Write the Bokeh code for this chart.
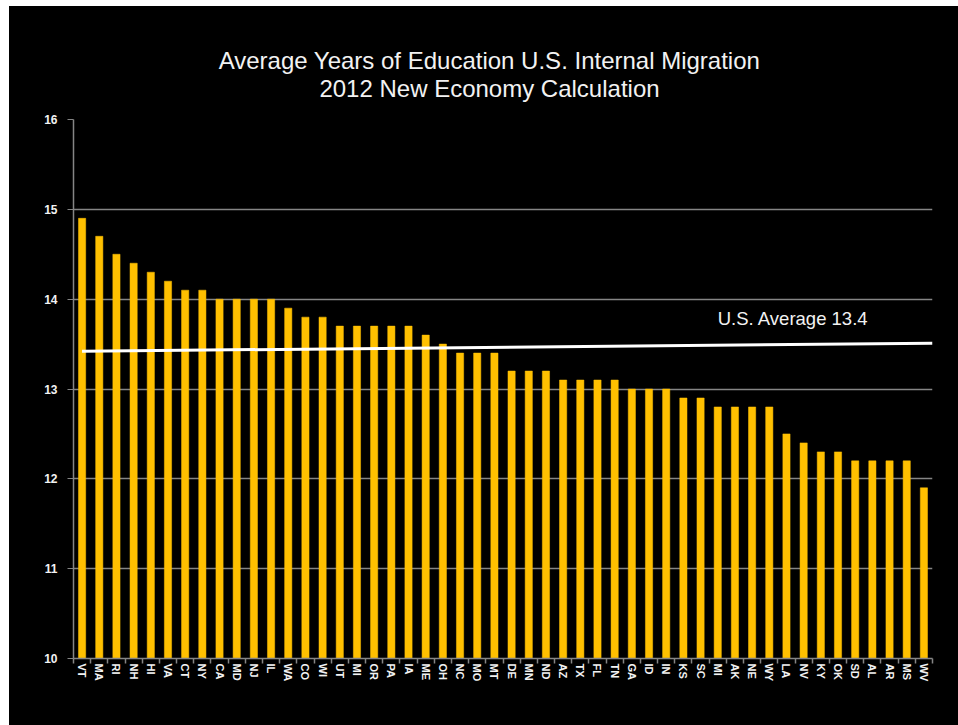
from bokeh.plotting import figure
from bokeh.models import (Range1d, LinearAxis, FixedTicker, Label, Spacer,
                          CustomJSTickFormatter)
from bokeh.core.properties import value
from bokeh.layouts import row, column
from bokeh.embed import file_html
from bokeh.resources import INLINE

# ---- data ----
states = ["VT", "MA", "RI", "NH", "HI", "VA", "CT", "NY", "CA", "MD",
          "NJ", "IL", "WA", "CO", "WI", "UT", "MI", "OR", "PA", "IA",
          "ME", "OH", "NC", "MO", "MT", "DE", "MN", "ND", "AZ", "TX",
          "FL", "TN", "GA", "ID", "IN", "KS", "SC", "MI", "AK", "NE",
          "WY", "LA", "NV", "KY", "OK", "SD", "AL", "AR", "MS", "WV"]
values = [14.9, 14.7, 14.5, 14.4, 14.3, 14.2, 14.1, 14.1, 14.0, 14.0,
          14.0, 14.0, 13.9, 13.8, 13.8, 13.7, 13.7, 13.7, 13.7, 13.7,
          13.6, 13.5, 13.4, 13.4, 13.4, 13.2, 13.2, 13.2, 13.1, 13.1,
          13.1, 13.1, 13.0, 13.0, 13.0, 12.9, 12.9, 12.8, 12.8, 12.8,
          12.8, 12.5, 12.4, 12.3, 12.3, 12.2, 12.2, 12.2, 12.2, 11.9]
y_ticks = [10, 11, 12, 13, 14, 15, 16]
avg_value = 13.4
avg_line_y = [13.42, 13.51]   # hand-drawn average line, slightly tilted
avg_label = "U.S. Average 13.4"
title_1 = "Average Years of Education U.S. Internal Migration"
title_2 = "2012 New Economy Calculation"

n = len(states)
xpos = [i + 0.5 for i in range(n)]     # category centres

BAR = "#FFC000"
GRID = "#858585"
TXT = "#f2f2f2"
FONT = "Liberation Sans"

W = 949
HT = 100                      # title strip height
H = 619                       # chart height
ML, MR, MT, MB = 64, 26, 13, 67

# ---- title strip (x in pixels from the strip's left edge) ----
t = figure(width=W, height=HT, x_range=Range1d(ML, W - MR),
           y_range=Range1d(0, HT),
           output_backend="svg", toolbar_location=None,
           x_axis_location=None, y_axis_location=None,
           background_fill_color="black", border_fill_color="black",
           outline_line_color=None, min_border_left=ML, min_border_right=MR,
           min_border_top=0, min_border_bottom=0)
t.xgrid.visible = False
t.ygrid.visible = False
t.text(x=[480, 480], y=[46, 18], text=[title_1, title_2],
       text_align="center", text_baseline="middle",
       text_font=value(FONT), text_font_size="24px", text_color=TXT)

# ---- chart ----
p = figure(width=W, height=H, x_range=Range1d(0, n),
           y_range=Range1d(10, 16), output_backend="svg",
           toolbar_location=None, x_axis_location=None, title=None,
           background_fill_color="black", border_fill_color="black",
           outline_line_color=None,
           min_border_left=ML, min_border_right=MR,
           min_border_top=MT, min_border_bottom=MB)
p.xgrid.visible = False

# bars
p.vbar(x=xpos, top=values, bottom=10, width=0.42, fill_color=BAR,
       line_color=BAR, line_width=0.5)

# average line
p.line(x=[xpos[0], n], y=avg_line_y, line_color="white", line_width=3)
p.add_layout(Label(x=37.5, y=avg_value + 0.385, text=avg_label,
                   text_color=TXT, text_font_size="18.5px",
                   text_font=FONT, text_baseline="middle",
                   text_align="left"))

# y axis
ya = p.yaxis[0]
ya.ticker = FixedTicker(ticks=y_ticks)
ya.axis_line_color = GRID
ya.axis_line_width = 1.5
ya.major_tick_line_color = GRID
ya.major_tick_out = 6
ya.major_tick_in = 0
ya.minor_tick_line_color = None
ya.major_label_text_color = TXT
ya.major_label_text_font = FONT
ya.major_label_text_font_style = "bold"
ya.major_label_text_font_size = "12px"
ya.major_label_standoff = 10

p.ygrid.grid_line_color = GRID
p.ygrid.grid_line_width = 1.5
p.ygrid.ticker = FixedTicker(ticks=y_ticks)

# x axis: labels at category centres, small ticks at category boundaries
fmt = CustomJSTickFormatter(args=dict(labels=states),
                            code="return labels[Math.round(tick - 0.5)] || '';")
xa = LinearAxis(ticker=FixedTicker(ticks=xpos, minor_ticks=list(range(n + 1))),
                formatter=fmt,
                axis_line_color=GRID, axis_line_width=1.5,
                major_tick_line_color=None, major_tick_out=5, major_tick_in=0,
                minor_tick_line_color=GRID, minor_tick_line_width=1.5,
                minor_tick_out=5, minor_tick_in=0,
                major_label_orientation="vertical",
                major_label_text_color=TXT,
                major_label_text_font=FONT,
                major_label_text_font_style="bold",
                major_label_text_font_size="11px",
                major_label_standoff=0)
p.add_layout(xa, "below")

chart = column(t, p, styles={"background-color": "black"})
layout = row(Spacer(width=9, height=HT + H + 6),
             column(Spacer(width=W, height=6), chart))

open("out.html", "w").write(file_html(layout, INLINE))
